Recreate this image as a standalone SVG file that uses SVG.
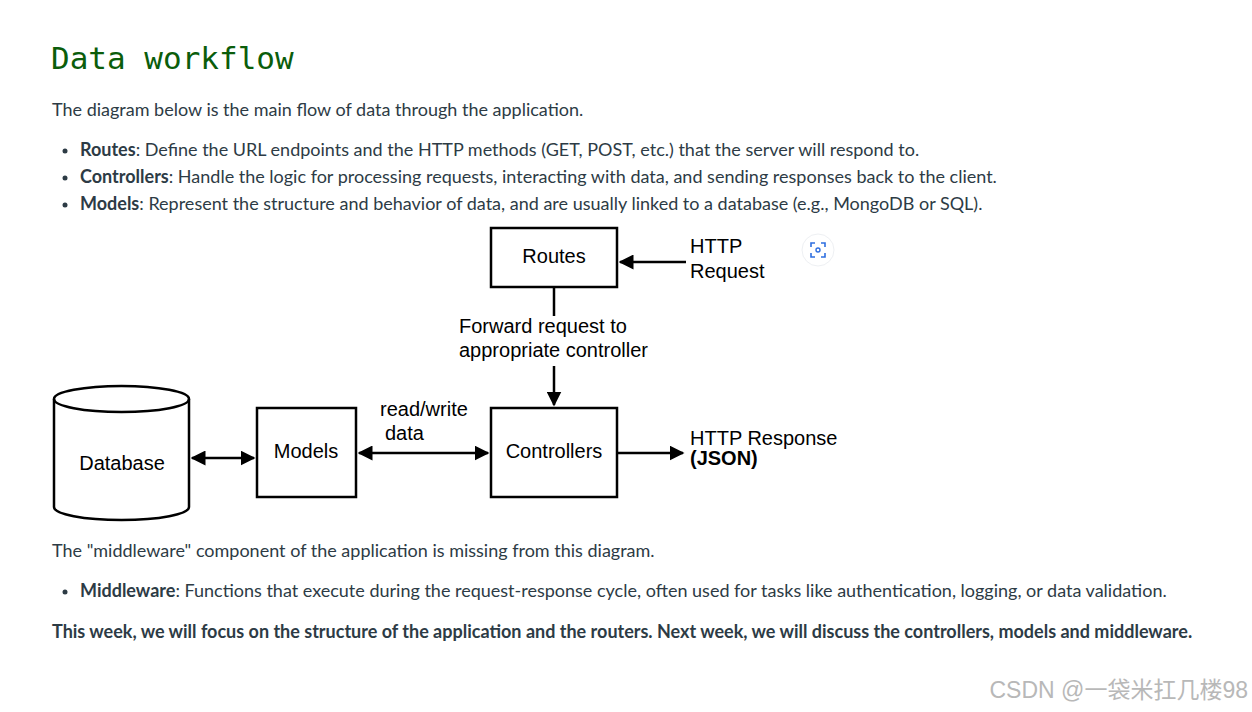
<svg xmlns="http://www.w3.org/2000/svg" width="1252" height="712" viewBox="0 0 1252 712">
<style>
.p{font-family:Lato,"Liberation Sans",sans-serif;font-size:18px;fill:#2d3b45}
.b{font-weight:bold}
.d{font-family:"Liberation Sans",Arial,sans-serif;font-size:20px;fill:#000}
.box{fill:#fff;stroke:#000;stroke-width:2.5}
.c{stroke:#000;stroke-width:2.5;fill:none}
</style>
<defs>
<marker id="a" viewBox="0 0 10 10" refX="9" refY="5" markerWidth="6" markerHeight="6" orient="auto-start-reverse"><path d="M0,0 L10,5 L0,10 Z" fill="#000"/></marker>
</defs>
<rect width="1252" height="712" fill="#fff"/>
<text x="51" y="69" font-family="'DejaVu Sans Mono',monospace" font-size="31" fill="#0b5d0b">Data workflow</text>
<text class="p" x="52" y="116">The diagram below is the main flow of data through the application.</text>
<g class="p">
<circle cx="65" cy="151" r="2.5" fill="#2d3b45"/>
<text x="80" y="156"><tspan class="b">Routes</tspan>: Define the URL endpoints and the HTTP methods (GET, POST, etc.) that the server will respond to.</text>
<circle cx="65" cy="178" r="2.5" fill="#2d3b45"/>
<text x="80" y="183"><tspan class="b">Controllers</tspan>: Handle the logic for processing requests, interacting with data, and sending responses back to the client.</text>
<circle cx="65" cy="205" r="2.5" fill="#2d3b45"/>
<text x="80" y="210"><tspan class="b">Models</tspan>: Represent the structure and behavior of data, and are usually linked to a database (e.g., MongoDB or SQL).</text>
</g>
<g id="connectors">
<line class="c" x1="686" y1="262" x2="620" y2="262" marker-end="url(#a)"/>
<line class="c" x1="554" y1="287" x2="554" y2="316"/>
<line class="c" x1="554" y1="366" x2="554" y2="405" marker-end="url(#a)"/>
<line class="c" x1="359" y1="453" x2="488" y2="453" marker-start="url(#a)" marker-end="url(#a)"/>
<line class="c" x1="192" y1="458" x2="254" y2="458" marker-start="url(#a)" marker-end="url(#a)"/>
<line class="c" x1="617" y1="453" x2="683" y2="453" marker-end="url(#a)"/>
<text class="d" x="459" y="333">Forward request to</text>
<text class="d" x="459" y="357">appropriate controller</text>
<text class="d" x="380" y="416">read/write</text>
<text class="d" x="385" y="440">data</text>
<text class="d" x="690" y="253">HTTP</text>
<text class="d" x="690" y="278">Request</text>
<text class="d" x="690" y="445">HTTP Response</text>
<text class="d" x="690" y="465" font-weight="bold" font-size="17">(JSON)</text>
</g>
<g id="routes"><rect class="box" x="491" y="228" width="126" height="59"/><text class="d" x="554" y="263" text-anchor="middle">Routes</text></g>
<g id="controllers"><rect class="box" x="491" y="408" width="126" height="89"/><text class="d" x="554" y="458" text-anchor="middle">Controllers</text></g>
<g id="models"><rect class="box" x="257" y="408" width="99" height="89"/><text class="d" x="306" y="458" text-anchor="middle">Models</text></g>
<g id="database">
<path class="box" d="M54,399 L54,507 A67.5,13 0 0 0 189,507 L189,399 A67.5,13 0 0 0 54,399 Z"/>
<path class="c" d="M54,399 A67.5,13 0 0 0 189,399"/>
<text class="d" x="122" y="470" text-anchor="middle">Database</text>
</g>
<g id="icon">
<circle cx="818" cy="250" r="16" fill="#fff" stroke="#eef0f3"/>
<path d="M811,247 v-4 h4 M821,243 h4 v4 M825,253 v4 h-4 M815,257 h-4 v-4" stroke="#2f6fe0" stroke-width="1.6" fill="none"/>
<circle cx="818" cy="250" r="2" stroke="#2f6fe0" stroke-width="1.4" fill="none"/>
</g>
<text class="p" x="52" y="557">The "middleware" component of the application is missing from this diagram.</text>
<circle cx="65" cy="592" r="2.5" fill="#2d3b45"/>
<text class="p" x="80" y="597"><tspan class="b">Middleware</tspan>: Functions that execute during the request-response cycle, often used for tasks like authentication, logging, or data validation.</text>
<text class="p b" x="52" y="638">This week, we will focus on the structure of the application and the routers. Next week, we will discuss the controllers, models and middleware.</text>
<text x="1248" y="698" text-anchor="end" font-family="'Liberation Sans','Noto Sans CJK SC',sans-serif" font-size="23" fill="#b8b8b8">CSDN @一袋米扛几楼98</text>
</svg>
